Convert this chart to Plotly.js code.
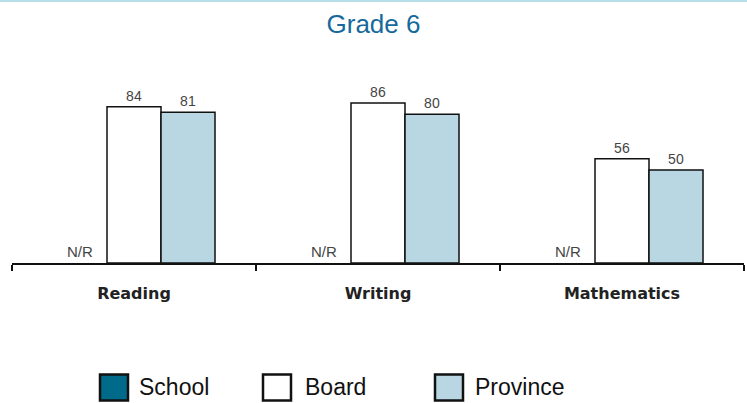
<!DOCTYPE html>
<html><head><meta charset="utf-8">
<script src="https://cdn.plot.ly/plotly-3.0.1.min.js"></script>
<style>html,body{margin:0;padding:0;background:#fff;}#chart{width:747px;height:403px;}</style>
</head><body><div id="chart"></div>
<script>
const categories = ["Reading", "Writing", "Mathematics"];
const schoolValues = [0, 0, 0];
const schoolLabels = ["N/R", "N/R", "N/R"];
const boardValues = [84, 86, 56];
const provinceValues = [81, 80, 50];
const seriesNames = ["School", "Board", "Province"];
const seriesColors = ["#006a8a", "#ffffff", "#b9d7e2"];

const W = 747, H = 403, M = {l: 12, r: 3, t: 77, b: 140};
const plotW = W - M.l - M.r, plotH = H - M.t - M.b;
const px2x = px => (px - M.l) / plotW;
const py2y = py => (H - M.b - py) / plotH;

const lineStyle = {color: "#111", width: 1.5};
const labelFont = {family: "Liberation Sans, Arial, sans-serif", size: 14, color: "#444"};
const nrFont = {family: "Liberation Sans, Arial, sans-serif", size: 15, color: "#444"};

const traces = [
  {type: "bar", name: seriesNames[0], x: categories, y: schoolValues, text: schoolLabels,
   textposition: "outside", textfont: nrFont, cliponaxis: false,
   marker: {color: seriesColors[0], line: {color: "rgba(0,0,0,0)", width: 0}}, hoverinfo: "skip"},
  {type: "bar", name: seriesNames[1], x: categories, y: boardValues, text: boardValues.map(String),
   textposition: "outside", textfont: labelFont, cliponaxis: false,
   marker: {color: seriesColors[1], line: lineStyle}, hoverinfo: "skip"},
  {type: "bar", name: seriesNames[2], x: categories, y: provinceValues, text: provinceValues.map(String),
   textposition: "outside", textfont: labelFont, cliponaxis: false,
   marker: {color: seriesColors[2], line: lineStyle}, hoverinfo: "skip"}
];

// manual legend (large swatches)
const legendSwatchX = [100, 263, 435];
const legendTextX = [137, 303, 473];
const shapes = [{type: "line", xref: "paper", yref: "paper", x0: -0.1, x1: 1.1, y0: py2y(1), y1: py2y(1),
                 line: {color: "#b8dfe8", width: 2}}];
const annotations = [];
seriesNames.forEach((name, i) => {
  shapes.push({type: "rect", xref: "paper", yref: "paper",
               x0: px2x(legendSwatchX[i]), x1: px2x(legendSwatchX[i] + 28),
               y0: py2y(374.5), y1: py2y(400.5),
               fillcolor: seriesColors[i], line: {color: "#111", width: 2.5}});
  annotations.push({xref: "paper", yref: "paper", x: px2x(legendTextX[i]), y: py2y(387),
                    xanchor: "left", yanchor: "middle", showarrow: false, text: name,
                    font: {family: "Liberation Sans, Arial, sans-serif", size: 23, color: "#111"}});
});

const layout = {
  width: W, height: H,
  margin: M,
  paper_bgcolor: "#fff", plot_bgcolor: "#fff",
  title: {text: "Grade 6", x: 0.5, xanchor: "center", y: 1 - 24 / H, yanchor: "middle",
          font: {family: "Liberation Sans, Arial, sans-serif", size: 26, color: "#17699c"}},
  barmode: "group", bargap: 0.336, bargroupgap: 0,
  xaxis: {showline: true, linecolor: "#111", linewidth: 1.5, ticks: "outside", tickson: "boundaries",
          ticklen: 6, tickcolor: "#111", tickwidth: 1.5, showgrid: false, zeroline: false,
          ticklabelstandoff: 15,
          tickfont: {family: "DejaVu Sans, Verdana, sans-serif", size: 16, color: "#222", weight: "bold"}},
  yaxis: {range: [0, 100], visible: false, showgrid: false, zeroline: false},
  showlegend: false,
  shapes: shapes,
  annotations: annotations
};

Plotly.newPlot("chart", traces, layout, {staticPlot: true});
</script></body></html>
